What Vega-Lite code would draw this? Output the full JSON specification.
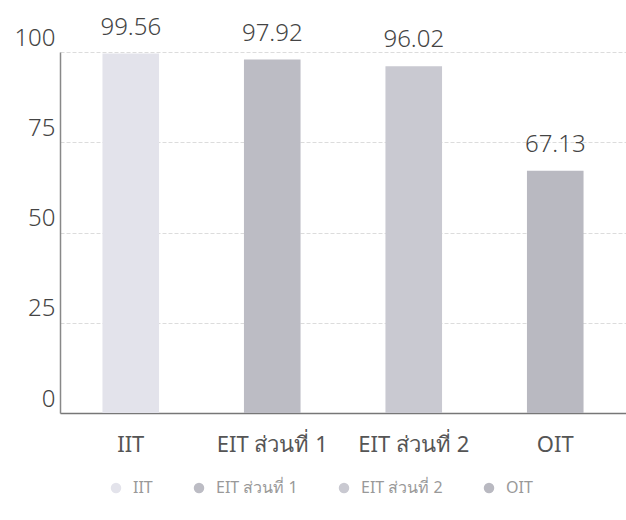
{
  "$schema": "https://vega.github.io/schema/vega-lite/v6.json",
  "autosize": "none",
  "width": 566,
  "height": 361,
  "padding": {"left": 60, "top": 52, "right": 0, "bottom": 107},
  "background": "white",
  "config": {
    "view": {"stroke": null},
    "font": "Noto Sans"
  },
  "data": {
    "values": [
      {"category": "IIT", "value": 99.56},
      {"category": "EIT ส่วนที่ 1", "value": 97.92},
      {"category": "EIT ส่วนที่ 2", "value": 96.02},
      {"category": "OIT", "value": 67.13}
    ]
  },
  "encoding": {
    "x": {
      "field": "category",
      "type": "nominal",
      "sort": null,
      "scale": {"paddingInner": 0.6, "paddingOuter": 0.3},
      "axis": {
        "title": null,
        "labelAngle": 0,
        "labelFontSize": 22,
        "labelFontWeight": "normal",
        "labelColor": "#555",
        "labelPadding": 21,
        "ticks": false,
        "domainColor": "#777",
        "domainWidth": 1.5
      }
    },
    "y": {
      "field": "value",
      "type": "quantitative",
      "scale": {"domain": [0, 100], "nice": false},
      "axis": {
        "title": null,
        "values": [0, 25, 50, 75, 100],
        "labelFontSize": 24,
        "labelFontWeight": 300,
        "labelColor": "#444",
        "labelPadding": 5,
        "labelBaseline": "bottom",
        "labelOffset": -2,
        "ticks": false,
        "domainColor": "#888",
        "domainWidth": 1.5,
        "gridColor": "#dcdcdc",
        "gridDash": [4, 2]
      }
    }
  },
  "layer": [
    {
      "mark": {"type": "bar"},
      "encoding": {
        "color": {
          "field": "category",
          "type": "nominal",
          "sort": null,
          "scale": {
            "domain": ["IIT", "EIT ส่วนที่ 1", "EIT ส่วนที่ 2", "OIT"],
            "range": ["#e3e3eb", "#bcbcc4", "#c9c9d1", "#b9b9c1"]
          },
          "legend": {
            "title": null,
            "orient": "none",
            "direction": "horizontal",
            "legendX": 48,
            "legendY": 428,
            "symbolType": "circle",
            "symbolSize": 110,
            "symbolStrokeWidth": 0,
            "labelFontSize": 16,
            "labelColor": "#999",
            "columnPadding": 38,
            "labelOffset": 9
          }
        }
      }
    },
    {
      "mark": {"type": "text", "baseline": "bottom", "dy": -14, "fontSize": 24, "fontWeight": 300, "color": "#444"},
      "encoding": {
        "text": {"field": "value", "type": "quantitative", "format": ".2f"}
      }
    }
  ]
}
